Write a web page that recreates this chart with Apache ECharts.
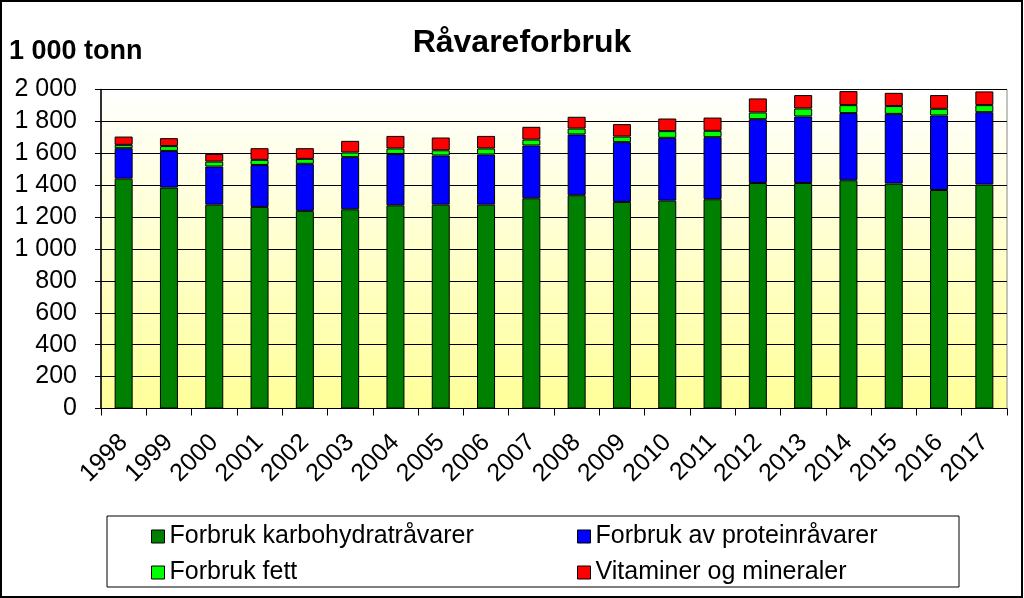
<!DOCTYPE html>
<html><head><meta charset="utf-8">
<script src="https://cdn.jsdelivr.net/npm/echarts@6/dist/echarts.min.js"></script>
<style>html,body{margin:0;padding:0;background:#fff}#c{width:1024px;height:598px}</style>
</head><body><div id="c"></div>
<script>
const years = ['1998','1999','2000','2001','2002','2003','2004','2005','2006','2007','2008','2009','2010','2011','2012','2013','2014','2015','2016','2017'];
const karbo   = [1441,1385,1278,1264,1239,1249,1274,1278,1278,1318,1337,1295,1303,1312,1414,1414,1431,1410,1370,1404];
const protein = [191,230,239,263,295,327,322,308,314,331,381,375,394,389,400,417,421,437,467,454];
const fett    = [21,30,31,32,31,29,34,33,38,37,37,35,42,40,42,50,50,49,42,44];
const vitamin = [52,50,48,73,67,73,79,80,79,80,74,78,79,83,88,84,88,83,86,86];
const yTicks  = [0,200,400,600,800,1000,1200,1400,1600,1800,2000];
const names = ['Forbruk karbohydratråvarer','Forbruk av proteinråvarer','Forbruk fett','Vitaminer og mineraler'];
const colors = ['#008000','#0000ff','#00ff00','#ff0000'];
const font = 'Liberation Sans, Arial, sans-serif';

const chart = echarts.init(document.getElementById('c'));
const mk = (i, data) => ({
  name: names[i], type: 'bar', stack: 'a', data: data, barWidth: 18,
  itemStyle: {color: colors[i], borderColor: '#000', borderWidth: 1},
  emphasis: {disabled: true}
});
const legendCommon = {
  orient: 'vertical', itemWidth: 13, itemHeight: 13, itemGap: 11,
  textStyle: {fontFamily: font, fontSize: 25, color: '#000'},
  itemStyle: {borderColor: '#000', borderWidth: 1}, selectedMode: false, icon: 'rect'
};
const fmt = v => v >= 1000 ? Math.floor(v/1000) + ' ' + String(v%1000).padStart(3,'0') : String(v);
chart.setOption({
  animation: false,
  textStyle: {fontFamily: font},
  graphic: [
    {type: 'rect', shape: {x: 1, y: 1, width: 1021, height: 596}, style: {fill: 'none', stroke: '#000', lineWidth: 2}, silent: true},
    {type: 'text', x: 522, y: 43, style: {text: 'Råvareforbruk', font: 'bold 32px ' + font, fill: '#000', align: 'center', verticalAlign: 'middle'}},
    {type: 'text', x: 9, y: 52, style: {text: '1 000 tonn', font: 'bold 27px ' + font, fill: '#000', align: 'left', verticalAlign: 'middle'}},
    {type: 'rect', shape: {x: 107, y: 516, width: 852, height: 71}, style: {fill: '#fff', stroke: '#000', lineWidth: 1}, z: 0, silent: true}
  ],
  legend: [
    Object.assign({left: 146, top: 519, data: [names[0], names[2]]}, legendCommon),
    Object.assign({left: 572, top: 519, data: [names[1], names[3]]}, legendCommon)
  ],
  grid: {left: 101, right: 17, top: 89.5, bottom: 189.5, show: true,
    borderColor: '#888', borderWidth: 1,
    backgroundColor: {type: 'linear', x: 0, y: 0, x2: 0, y2: 1,
      colorStops: [{offset: 0, color: '#ffffff'}, {offset: 1, color: '#ffff99'}]}},
  xAxis: {type: 'category', data: years,
    axisLine: {lineStyle: {color: '#000', width: 1}},
    axisTick: {show: true, length: 7, alignWithLabel: false, lineStyle: {color: '#000'}},
    axisLabel: {rotate: 45, fontSize: 25, color: '#000', fontFamily: font, margin: 30, interval: 0}},
  yAxis: {type: 'value', min: yTicks[0], max: yTicks[yTicks.length-1], interval: yTicks[1]-yTicks[0],
    axisLine: {show: true, lineStyle: {color: '#000', width: 1.5}},
    axisTick: {show: true, length: 6, lineStyle: {color: '#000'}},
    splitLine: {lineStyle: {color: '#000', width: 1}},
    axisLabel: {fontSize: 25, color: '#000', fontFamily: font, margin: 24, formatter: fmt}},
  series: [mk(0, karbo), mk(1, protein), mk(2, fett), mk(3, vitamin)]
});
</script></body></html>
